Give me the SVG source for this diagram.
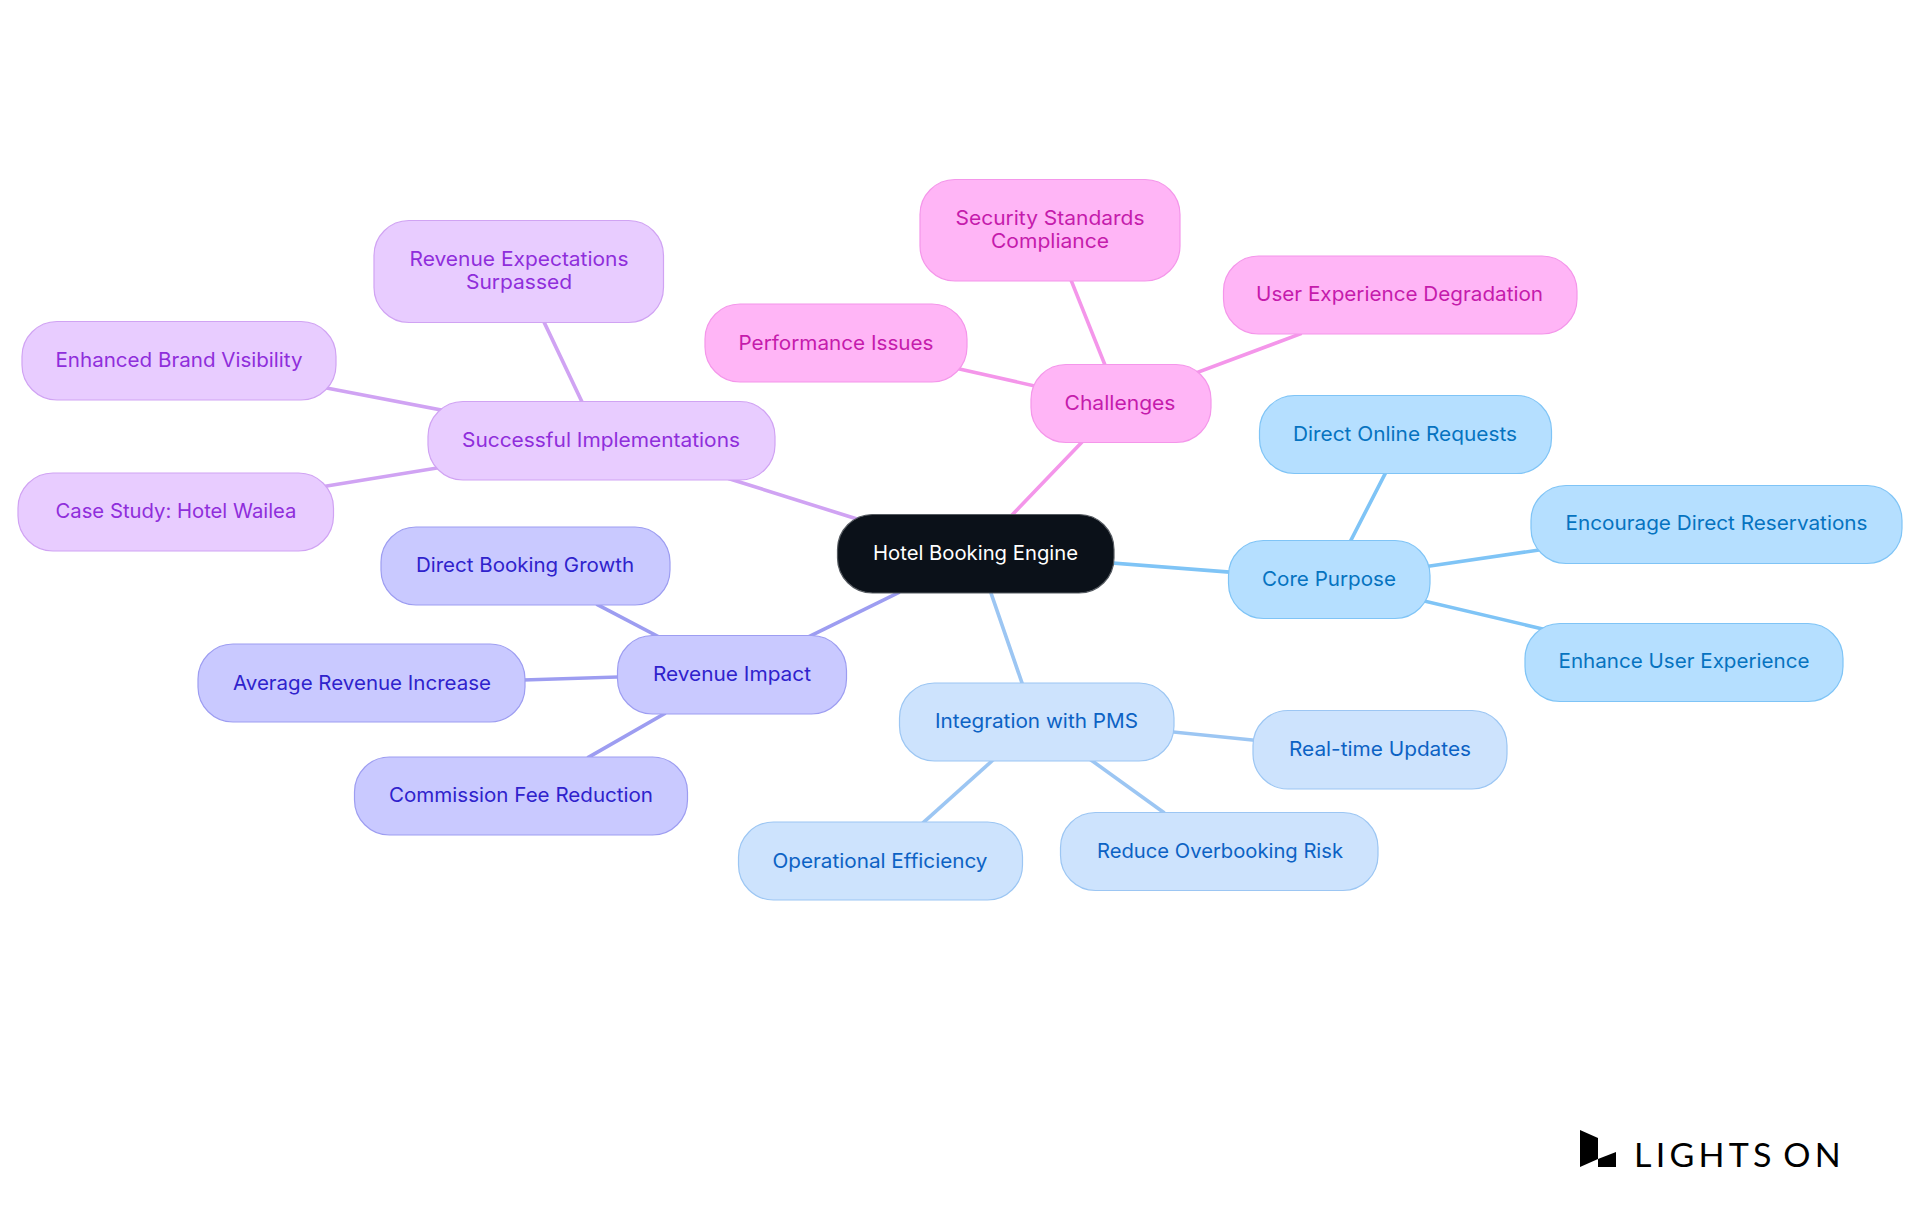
<svg xmlns="http://www.w3.org/2000/svg" width="1920" height="1215" viewBox="0 0 1920 1215">
<style>
text{font-family:"Inter","Noto Sans","Liberation Sans",sans-serif;font-size:20px;font-weight:380;text-anchor:middle}
rect{stroke-width:1.2}
line{stroke-width:3.6;stroke-linecap:square;fill:none}
.root rect{fill:#0b1119;stroke:#555a60}.root text{fill:#fff}
.core rect{fill:#b5dfff;stroke:#7fc4f6}.core text{fill:#0673c0}
.int rect{fill:#cde3fd;stroke:#9cc6f3}.int text{fill:#0c62c4}
.rev rect{fill:#c9c9ff;stroke:#9d9df1}.rev text{fill:#2f22cc}
.suc rect{fill:#e8ccff;stroke:#d0a3f3}.suc text{fill:#8f2edb}
.cha rect{fill:#ffb5f6;stroke:#f496ea}.cha text{fill:#c51bac}
.lcore{stroke:#7fc4f6}.lint{stroke:#9cc6f3}.lrev{stroke:#9d9df1}.lsuc{stroke:#d0a3f3}.lcha{stroke:#f496ea}
.logo{font-family:"Lato","Liberation Sans",sans-serif;font-size:32px;font-weight:400;fill:#000;text-anchor:start;letter-spacing:4px;word-spacing:-5px}
</style>
<g id="connectors">
<line class="lcore" x1="1113" y1="563" x2="1228" y2="572"/>
<line class="lcore" x1="1351" y1="540" x2="1385" y2="474"/>
<line class="lcore" x1="1430" y1="566" x2="1539" y2="550"/>
<line class="lcore" x1="1424" y1="601" x2="1543" y2="629"/>
<line class="lint" x1="991" y1="593" x2="1022" y2="683"/>
<line class="lint" x1="1173" y1="732" x2="1253" y2="740"/>
<line class="lint" x1="1091" y1="760" x2="1163" y2="812"/>
<line class="lint" x1="993" y1="760" x2="924" y2="822"/>
<line class="lrev" x1="898" y1="593" x2="808" y2="637"/>
<line class="lrev" x1="659" y1="637" x2="598" y2="605"/>
<line class="lrev" x1="617" y1="677" x2="525" y2="680"/>
<line class="lrev" x1="664" y1="714" x2="589" y2="757"/>
<line class="lsuc" x1="857" y1="519" x2="730" y2="479"/>
<line class="lsuc" x1="582" y1="402" x2="544" y2="322"/>
<line class="lsuc" x1="441" y1="410" x2="327" y2="388"/>
<line class="lsuc" x1="437" y1="468" x2="327" y2="486"/>
<line class="lcha" x1="1013" y1="514" x2="1082" y2="442"/>
<line class="lcha" x1="1105" y1="365" x2="1071" y2="280"/>
<line class="lcha" x1="1035" y1="386" x2="959" y2="369"/>
<line class="lcha" x1="1196" y1="373" x2="1300" y2="334"/>
</g>
<g id="root" class="root"><rect x="837.5" y="514.5" width="276.5" height="78.5" rx="35"/><text x="975.5" y="560" textLength="205" lengthAdjust="spacingAndGlyphs">Hotel Booking Engine</text></g>
<g id="core-purpose" class="core"><rect x="1228.5" y="540.5" width="201.5" height="78" rx="35"/><text x="1329" y="586" textLength="134" lengthAdjust="spacingAndGlyphs">Core Purpose</text></g>
<g id="direct-online" class="core"><rect x="1259.5" y="395.5" width="292" height="78" rx="35"/><text x="1405" y="441" textLength="224" lengthAdjust="spacingAndGlyphs">Direct Online Requests</text></g>
<g id="encourage" class="core"><rect x="1531" y="485.5" width="371" height="78" rx="35"/><text x="1716.5" y="530" textLength="302" lengthAdjust="spacingAndGlyphs">Encourage Direct Reservations</text></g>
<g id="enhance-ux" class="core"><rect x="1525" y="623.5" width="318" height="78" rx="35"/><text x="1684" y="668" textLength="251" lengthAdjust="spacingAndGlyphs">Enhance User Experience</text></g>
<g id="integration" class="int"><rect x="899.5" y="683" width="274.5" height="78" rx="35"/><text x="1036.5" y="728" textLength="203" lengthAdjust="spacingAndGlyphs">Integration with PMS</text></g>
<g id="real-time" class="int"><rect x="1253" y="710.5" width="254" height="78.5" rx="35"/><text x="1380" y="756" textLength="182" lengthAdjust="spacingAndGlyphs">Real-time Updates</text></g>
<g id="reduce" class="int"><rect x="1060.5" y="812.5" width="317.5" height="78" rx="35"/><text x="1220" y="858" textLength="246" lengthAdjust="spacingAndGlyphs">Reduce Overbooking Risk</text></g>
<g id="operational" class="int"><rect x="738.5" y="822" width="284" height="78" rx="35"/><text x="880" y="868" textLength="215" lengthAdjust="spacingAndGlyphs">Operational Efficiency</text></g>
<g id="revenue-impact" class="rev"><rect x="617.5" y="635.5" width="229" height="78.5" rx="35"/><text x="732" y="681" textLength="158" lengthAdjust="spacingAndGlyphs">Revenue Impact</text></g>
<g id="direct-booking" class="rev"><rect x="381" y="527" width="289" height="78" rx="35"/><text x="525" y="572" textLength="218" lengthAdjust="spacingAndGlyphs">Direct Booking Growth</text></g>
<g id="average-revenue" class="rev"><rect x="198" y="644" width="327" height="78" rx="35"/><text x="362" y="690" textLength="258" lengthAdjust="spacingAndGlyphs">Average Revenue Increase</text></g>
<g id="commission" class="rev"><rect x="354.5" y="757" width="333" height="78" rx="35"/><text x="521" y="802" textLength="264" lengthAdjust="spacingAndGlyphs">Commission Fee Reduction</text></g>
<g id="successful" class="suc"><rect x="428" y="401.5" width="347" height="78.5" rx="35"/><text x="601" y="447" textLength="278" lengthAdjust="spacingAndGlyphs">Successful Implementations</text></g>
<g id="revenue-expectations" class="suc"><rect x="374" y="220.5" width="289.5" height="102" rx="35"/><text x="519" y="266" textLength="219" lengthAdjust="spacingAndGlyphs">Revenue Expectations</text><text x="519" y="289" textLength="106" lengthAdjust="spacingAndGlyphs">Surpassed</text></g>
<g id="brand-visibility" class="suc"><rect x="22" y="321.5" width="314" height="78.5" rx="35"/><text x="179" y="367" textLength="247" lengthAdjust="spacingAndGlyphs">Enhanced Brand Visibility</text></g>
<g id="case-study" class="suc"><rect x="18" y="473" width="315.5" height="78" rx="35"/><text x="176" y="518" textLength="241" lengthAdjust="spacingAndGlyphs">Case Study: Hotel Wailea</text></g>
<g id="challenges" class="cha"><rect x="1031" y="364.5" width="180" height="78" rx="35"/><text x="1120" y="410" textLength="111" lengthAdjust="spacingAndGlyphs">Challenges</text></g>
<g id="performance" class="cha"><rect x="705" y="304" width="262" height="78" rx="35"/><text x="836" y="350" textLength="195" lengthAdjust="spacingAndGlyphs">Performance Issues</text></g>
<g id="security" class="cha"><rect x="920" y="179.5" width="260" height="101.5" rx="35"/><text x="1050" y="225" textLength="189" lengthAdjust="spacingAndGlyphs">Security Standards</text><text x="1050" y="248" textLength="118" lengthAdjust="spacingAndGlyphs">Compliance</text></g>
<g id="user-experience" class="cha"><rect x="1223.5" y="256" width="353.5" height="78" rx="35"/><text x="1399.5" y="301" textLength="287" lengthAdjust="spacingAndGlyphs">User Experience Degradation</text></g>
<g id="logo"><polygon points="1580,1130 1598,1138 1598,1159 1580,1167"/><polygon points="1598,1159 1616,1152 1616,1167 1598,1167"/><text class="logo" x="1634" y="1167" textLength="211" lengthAdjust="spacingAndGlyphs">LIGHTS ON</text></g>
</svg>
